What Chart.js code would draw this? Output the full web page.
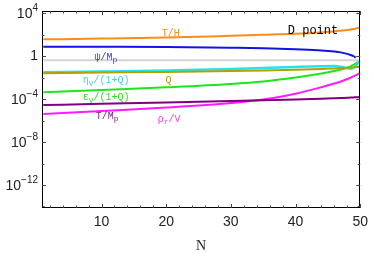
<!DOCTYPE html>
<html>
<head>
<meta charset="utf-8">
<script src="https://cdn.jsdelivr.net/npm/chart.js@4.4.1/dist/chart.umd.min.js"></script>
<style>
  html, body { margin: 0; padding: 0; background: #fff; }
</style>
</head>
<body>
<canvas id="plot" width="374" height="256"></canvas>
<script>
// e-folds N and the curves (log y axis)
const nValues = [1, 10, 20, 30, 35, 40, 44, 46, 47, 48, 48.5, 49, 49.3, 49.6, 50];
const tOverH = [35.5, 41.7, 52.5, 75.9, 93.3, 117, 158, 200, 229, 263, 288, 331, 363, 398, 447];
const psiOverMp = [7.41, 7.24, 6.92, 5.89, 5.25, 4.17, 3.31, 2.63, 2.19, 1.58, 1.26, 0.955, 0.692, null, null];
const grayRef = [0.4, 0.4, 0.4, 0.4, 0.4, 0.4, 0.4, 0.4, 0.4, 0.4, 0.4, 0.4, 0.4, 0.4, 0.4];
const etaOver1Q = [0.0302, 0.0363, 0.0447, 0.0617, 0.0759, 0.0955, 0.112, 0.117, 0.1, 0.0708, 0.0661, 0.0832, 0.112, 0.191, 0.355];
const qValues = [0.0251, 0.0288, 0.0331, 0.0398, 0.0457, 0.0537, 0.0631, 0.0692, 0.0741, 0.0794, 0.0832, 0.0891, 0.0933, 0.0977, 0.105];
const epsOver1Q = [4.17e-4, 6.92e-4, 1.23e-3, 2.51e-3, 4.27e-3, 1.0e-2, 2.34e-2, 3.98e-2, 5.5e-2, 8.51e-2, 0.11, 0.158, 0.2, 0.263, 0.38];
const tOverMp = [2.75e-5, 3.55e-5, 4.68e-5, 6.46e-5, 7.59e-5, 8.91e-5, 1.07e-4, 1.17e-4, 1.23e-4, 1.32e-4, 1.35e-4, 1.41e-4, 1.45e-4, 1.48e-4, 1.55e-4];
const rhoOverV = [3.98e-6, 7.59e-6, 1.62e-5, 4.27e-5, 8.91e-5, 3.16e-4, 1.26e-3, 2.75e-3, 4.27e-3, 7.24e-3, 9.55e-3, 1.32e-2, 1.62e-2, 2.0e-2, 2.63e-2];

// tick values
const xTicks = [2, 4, 6, 8, 10, 12, 14, 16, 18, 20, 22, 24, 26, 28, 30, 32, 34, 36, 38, 40, 42, 44, 46, 48, 50];
const xTickLabels = [10, 20, 30, 40, 50];
const yDecades = [4, 3, 2, 1, 0, -1, -2, -3, -4, -5, -6, -7, -8, -9, -10, -11, -12, -13, -14];
const yLabelExps = [4, 0, -4, -8, -12];

// in-plot curve labels, placed at (N, value)
const curveLabels = [
  { parts: [["T/H", 0]], n: 19.3, v: 138, color: "#ff8a10", size: 10 },
  { parts: [["D point", 0]], n: 38.8, v: 214, color: "#000", size: 12 },
  { parts: [["ψ/M", 0], ["p", 1]], n: 8.9, v: 0.81, color: "#3a3ae8", size: 10 },
  { parts: [["η", 0], ["V", 1], ["/(1+Q)", 0]], n: 7.1, v: 5.0e-3, color: "#3ad8e8", size: 10 },
  { parts: [["Q", 0]], n: 19.9, v: 5.9e-3, color: "#b4a010", size: 10 },
  { parts: [["ε", 0], ["V", 1], ["/(1+Q)", 0]], n: 7.1, v: 1.32e-4, color: "#2ee02e", size: 10 },
  { parts: [["T/M", 0], ["p", 1]], n: 9.1, v: 2.6e-6, color: "#7a1a7a", size: 10 },
  { parts: [["ρ", 0], ["r", 1], ["/V", 0]], n: 18.7, v: 1.38e-6, color: "#f040f0", size: 10 },
];

function series(values) {
  return nValues.map((n, i) => ({ x: n, y: values[i] }));
}

function line(label, values, color, width) {
  return {
    label: label,
    data: series(values),
    borderColor: color,
    borderWidth: width,
    pointRadius: 0,
    fill: false,
    cubicInterpolationMode: "monotone",
    spanGaps: false,
  };
}

function drawRich(ctx, parts, x, y, size) {
  let cx = x;
  parts.forEach(([txt, sub]) => {
    if (sub) {
      ctx.font = (size * 0.8) + "px 'Liberation Mono', monospace";
      ctx.fillText(txt, cx, y + size * 0.3);
    } else {
      ctx.font = size + "px 'Liberation Mono', monospace";
      ctx.fillText(txt, cx, y);
    }
    cx += ctx.measureText(txt).width;
  });
}

const framePlugin = {
  id: "frame",
  afterDraw(chart) {
    const ctx = chart.ctx;
    const a = chart.chartArea;
    const xs = chart.scales.x;
    const ys = chart.scales.y;
    ctx.save();

    // frame
    ctx.strokeStyle = "#000";
    ctx.lineWidth = 1;
    ctx.strokeRect(Math.round(a.left) + 0.5, Math.round(a.top) + 0.5,
      Math.round(a.right - a.left) - 1, Math.round(a.bottom - a.top) - 1);

    // inward ticks
    ctx.strokeStyle = "#444";
    ctx.beginPath();
    xs.ticks.forEach((t) => {
      const px = Math.round(xs.getPixelForValue(t.value)) + 0.5;
      const len = t.value % 10 === 0 ? 4 : 2.5;
      ctx.moveTo(px, a.bottom); ctx.lineTo(px, a.bottom - len);
      ctx.moveTo(px, a.top); ctx.lineTo(px, a.top + len);
    });
    ys.ticks.forEach((t) => {
      const py = Math.round(ys.getPixelForValue(t.value)) + 0.5;
      const k = Math.round(Math.log10(t.value));
      const len = k % 4 === 0 ? 4 : 2.5;
      ctx.moveTo(a.left, py); ctx.lineTo(a.left + len, py);
      ctx.moveTo(a.right, py); ctx.lineTo(a.right - len, py);
    });
    ctx.stroke();

    // y labels 10^k
    ctx.fillStyle = "#222";
    ctx.textBaseline = "middle";
    yLabelExps.forEach((k) => {
      const py = ys.getPixelForValue(Math.pow(10, k));
      const right = a.left - 4;
      if (k === 0) {
        ctx.font = "14px 'Liberation Sans', Arial, sans-serif";
        ctx.textAlign = "right";
        ctx.fillText("1", right, py);
        return;
      }
      const exp = k < 0 ? "\u2212" + (-k) : String(k);
      ctx.font = "10px 'Liberation Sans', Arial, sans-serif";
      const ew = ctx.measureText(exp).width;
      ctx.textAlign = "left";
      ctx.fillText(exp, right - ew, py - 5);
      ctx.font = "14px 'Liberation Sans', Arial, sans-serif";
      ctx.textAlign = "right";
      ctx.fillText("10", right - ew, py + 1);
    });

    // curve labels
    ctx.textAlign = "left";
    curveLabels.forEach((l) => {
      ctx.fillStyle = l.color;
      drawRich(ctx, l.parts, xs.getPixelForValue(l.n), ys.getPixelForValue(l.v), l.size);
    });
    ctx.restore();
  },
};

new Chart(document.getElementById("plot"), {
  type: "line",
  data: {
    datasets: [
      line("gray", grayRef, "#d4d4d4", 2),
      line("T/H", tOverH, "#ff8c1a", 2),
      line("psi/Mp", psiOverMp, "#1414e0", 2),
      line("Q", qValues, "#b0a000", 2),
      line("etaV/(1+Q)", etaOver1Q, "#22e6ee", 2.5),
      line("epsV/(1+Q)", epsOver1Q, "#1ee61e", 2),
      line("T/Mp", tOverMp, "#800080", 2),
      line("rho_r/V", rhoOverV, "#ff1aff", 2),
    ],
  },
  options: {
    responsive: false,
    devicePixelRatio: 1,
    animation: false,
    layout: { padding: { top: 11, right: 10, left: 0, bottom: 0 } },
    plugins: { legend: { display: false }, tooltip: { enabled: false } },
    scales: {
      x: {
        type: "linear",
        min: 0.8,
        max: 50,
        afterBuildTicks: (s) => { s.ticks = xTicks.map((v) => ({ value: v })); },
        afterFit: (s) => { s.height = 48; },
        ticks: {
          autoSkip: false,
          maxRotation: 0,
          padding: 6,
          color: "#222",
          font: { family: "'Liberation Sans', Arial, sans-serif", size: 14 },
          callback: (v) => (xTickLabels.includes(v) ? String(v) : ""),
        },
        grid: { drawOnChartArea: false, drawTicks: false },
        border: { display: false },
        title: {
          display: true,
          text: "N",
          color: "#222",
          padding: { top: 0, bottom: 1 },
          font: { family: "'Liberation Serif', 'Times New Roman', serif", size: 14 },
        },
      },
      y: {
        type: "logarithmic",
        min: Math.pow(10, -14.14),
        max: Math.pow(10, 4.19),
        afterBuildTicks: (s) => { s.ticks = yDecades.map((k) => ({ value: Math.pow(10, k) })); },
        afterFit: (s) => { s.width = 42; },
        ticks: { callback: () => "" },
        grid: { drawOnChartArea: false, drawTicks: false },
        border: { display: false },
      },
    },
  },
  plugins: [framePlugin],
});
</script>
</body>
</html>
